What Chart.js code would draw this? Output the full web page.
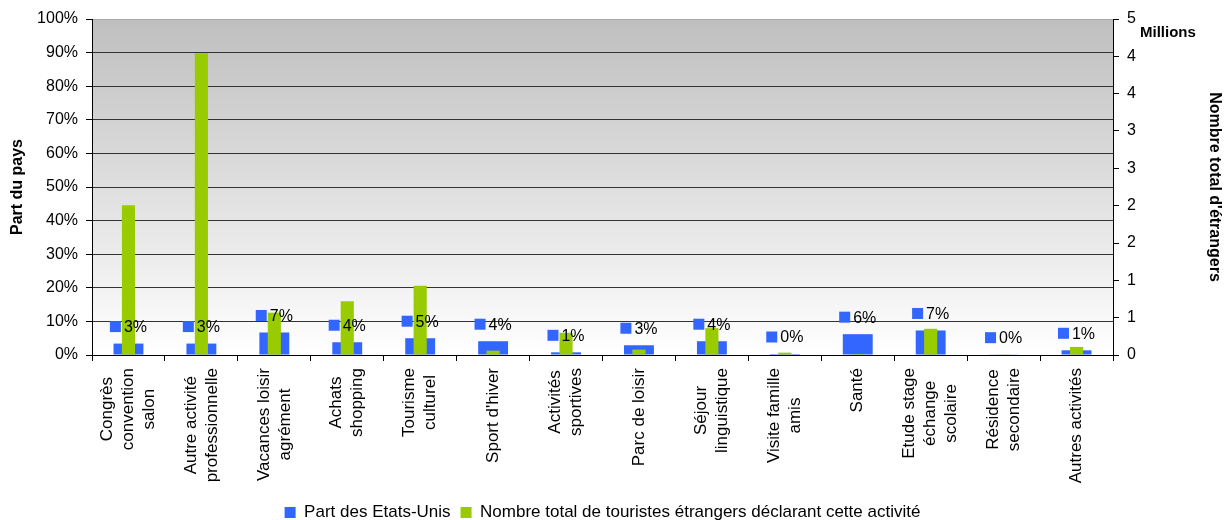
<!DOCTYPE html>
<html>
<head>
<meta charset="utf-8">
<script src="https://cdn.jsdelivr.net/npm/chart.js"></script>
<style>
  html, body { margin: 0; padding: 0; background: #fff; }
  #box { width: 1224px; height: 520px; }
</style>
</head>
<body>
<div id="box"><canvas id="myChart"></canvas></div>
<script>
let categories = [
  ["Congrès", "convention", "salon"],
  ["Autre activité", "professionnelle"],
  ["Vacances loisir", "agrément"],
  ["Achats", "shopping"],
  ["Tourisme", "culturel"],
  ["Sport d'hiver"],
  ["Activités", "sportives"],
  ["Parc de loisir"],
  ["Séjour", "linguistique"],
  ["Visite famille", "amis"],
  ["Santé"],
  ["Etude stage", "échange", "scolaire"],
  ["Résidence", "secondaire"],
  ["Autres activités"]
];
// part des Etats-Unis, en %
let partEtatsUnis = [3.4, 3.4, 6.7, 3.8, 5.0, 4.1, 0.8, 2.9, 4.1, 0.3, 6.2, 7.3, 0.1, 1.4];
// nombre total de touristes etrangers, en millions
let totalEtrangers = [2.23, 4.49, 0.63, 0.80, 1.03, 0.064, 0.33, 0.08, 0.40, 0.035, 0.015, 0.39, 0.005, 0.12];

let seriesNames = ["Part des Etats-Unis", "Nombre total de touristes étrangers déclarant cette activité"];
let leftMax = 100;
let leftStep = 10;
let rightMax = 5;
let rightDivisions = 9;

const blue = "#3366ff";
const green = "#99cc00";

Chart.defaults.font.family = "'Liberation Sans', Arial, sans-serif";
Chart.defaults.font.size = 16;
Chart.defaults.color = "#000";

const plotBackground = {
  id: "plotBackground",
  beforeDraw(chart) {
    const { ctx, chartArea } = chart;
    let grad = ctx.createLinearGradient(0, chartArea.top, 0, chartArea.bottom);
    grad.addColorStop(0, "#bfbfbf");
    grad.addColorStop(1, "#ffffff");
    ctx.save();
    ctx.fillStyle = grad;
    ctx.fillRect(chartArea.left, chartArea.top, chartArea.width, chartArea.height);
    ctx.restore();
  }
};

// data labels with legend key above the blue bars
const valueLabels = {
  id: "valueLabels",
  afterDatasetsDraw(chart) {
    const ctx = chart.ctx;
    const meta = chart.getDatasetMeta(0);
    ctx.save();
    ctx.font = "16px 'Liberation Sans', Arial, sans-serif";
    ctx.textBaseline = "middle";
    ctx.textAlign = "left";
    meta.data.forEach((bar, i) => {
      let text = Math.round(partEtatsUnis[i]) + "%";
      let tw = ctx.measureText(text).width;
      let total = 11 + 3 + tw;
      let x0 = bar.x - total / 2;
      let yc = bar.y - 17;
      ctx.fillStyle = blue;
      ctx.fillRect(x0, yc - 5.5, 11, 11);
      ctx.fillStyle = "#000";
      ctx.fillText(text, x0 + 14, yc + 1);
    });
    ctx.restore();
  }
};

// category labels, rotated, lines centered
const categoryLabels = {
  id: "categoryLabels",
  afterDraw(chart) {
    const ctx = chart.ctx;
    const scale = chart.scales.x;
    ctx.save();
    ctx.font = "17px 'Liberation Sans', Arial, sans-serif";
    ctx.fillStyle = "#000";
    ctx.textAlign = "center";
    ctx.textBaseline = "middle";
    categories.forEach((lines, i) => {
      let x = scale.getPixelForTick(i);
      let w = Math.max(...lines.map(l => ctx.measureText(l).width));
      ctx.save();
      ctx.translate(x, scale.top + 13);
      ctx.rotate(-Math.PI / 2);
      lines.forEach((l, k) => {
        ctx.fillText(l, -w / 2, (k - (lines.length - 1) / 2) * 21);
      });
      ctx.restore();
    });
    ctx.restore();
  }
};

const unitLabel = {
  id: "unitLabel",
  afterDraw(chart) {
    const ctx = chart.ctx;
    const scale = chart.scales.y2;
    ctx.save();
    ctx.font = "bold 15px 'Liberation Sans', Arial, sans-serif";
    ctx.fillStyle = "#000";
    ctx.textAlign = "left";
    ctx.textBaseline = "middle";
    ctx.fillText("Millions", scale.left + 27, scale.top + 14);
    ctx.restore();
  }
};

const ctx = document.getElementById("myChart");

new Chart(ctx, {
  type: "bar",
  data: {
    labels: categories,
    datasets: [
      {
        label: seriesNames[0],
        data: partEtatsUnis,
        backgroundColor: blue,
        yAxisID: "y",
        grouped: false,
        order: 1,
        barPercentage: 0.41,
        categoryPercentage: 1
      },
      {
        label: seriesNames[1],
        data: totalEtrangers,
        backgroundColor: green,
        yAxisID: "y2",
        grouped: false,
        order: 0,
        barPercentage: 0.18,
        categoryPercentage: 1
      }
    ]
  },
  options: {
    responsive: true,
    maintainAspectRatio: false,
    animation: false,
    layout: { padding: { top: 19, left: 0, right: 0, bottom: -11 } },
    plugins: {
      tooltip: { enabled: false },
      legend: {
        position: "bottom",
        fullSize: false,
        labels: {
          boxWidth: 11,
          boxHeight: 11,
          padding: 10,
          font: { size: 17 },
          sort: (a, b) => a.datasetIndex - b.datasetIndex
        }
      }
    },
    scales: {
      x: {
        ticks: { display: false },
        grid: { offset: true, drawOnChartArea: false, tickLength: 6, color: "#000" },
        border: { display: true, color: "#000" },
        afterFit(scale) { scale.height = 139; }
      },
      y: {
        position: "left",
        min: 0,
        max: leftMax,
        ticks: { stepSize: leftStep, padding: 8, callback: v => v + "%" },
        grid: {
          color: c => (c.tick && c.tick.value === leftMax ? "#a8a8a8" : "#333"),
          tickColor: "#000",
          tickLength: 6
        },
        border: { display: true, color: "#000" },
        title: {
          display: true,
          text: "Part du pays",
          font: { size: 16, weight: "bold" },
          padding: { top: 8, bottom: 0 }
        },
        afterFit(scale) { scale.width = 92; }
      },
      y2: {
        position: "right",
        min: 0,
        max: rightMax,
        ticks: { stepSize: rightMax / rightDivisions, padding: 8, callback: v => Math.round(v) },
        grid: { drawOnChartArea: false, color: "#000", tickLength: 6 },
        border: { display: true, color: "#000" },
        title: {
          display: true,
          text: "Nombre total d'étrangers",
          font: { size: 16, weight: "bold" },
          padding: { top: 0, bottom: 0 }
        },
        afterFit(scale) { scale.width = 111; }
      }
    }
  },
  plugins: [plotBackground, valueLabels, categoryLabels, unitLabel]
});
</script>
</body>
</html>
